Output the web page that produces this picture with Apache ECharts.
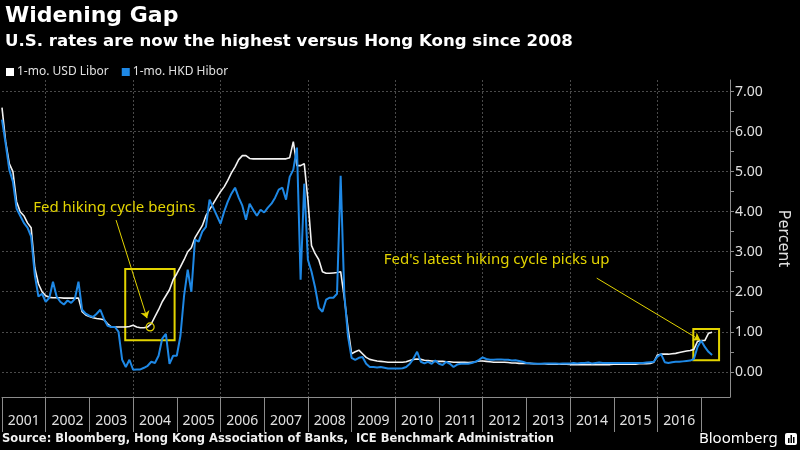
<!DOCTYPE html>
<html>
<head>
<meta charset="utf-8">
<script src="https://cdn.jsdelivr.net/npm/echarts@6/dist/echarts.min.js"></script>
<style>
  html, body { margin: 0; padding: 0; background: #000; }
  #chart { width: 800px; height: 450px; }
</style>
</head>
<body>
<div id="chart"></div>
<script>
// monthly readings, first point = Jan 2001
const startYear = 2001
const liborUSD = [
  6.6, 5.75, 5.2, 5.0, 4.25, 4.0, 3.9, 3.72, 3.6, 2.6, 2.2, 2.0,
  1.9, 1.86, 1.85, 1.85, 1.85, 1.84, 1.84, 1.84, 1.84, 1.84, 1.5, 1.42,
  1.38, 1.35, 1.33, 1.32, 1.3, 1.2, 1.12, 1.12, 1.12, 1.12, 1.12, 1.13,
  1.16, 1.12, 1.1, 1.1, 1.12, 1.2, 1.38, 1.55, 1.75, 1.9, 2.05, 2.3,
  2.45, 2.62, 2.8, 3.0, 3.1, 3.35, 3.5, 3.65, 3.9, 4.05, 4.2, 4.35,
  4.5, 4.62, 4.78, 4.97, 5.12, 5.3, 5.4, 5.4, 5.33, 5.32, 5.32, 5.32,
  5.32, 5.32, 5.32, 5.32, 5.32, 5.32, 5.32, 5.35, 5.75, 5.15, 5.15, 5.2,
  4.3, 3.15, 2.95, 2.8, 2.5, 2.46, 2.46, 2.47, 2.48, 2.5, 1.85, 1.1,
  0.45, 0.5, 0.54, 0.45, 0.36, 0.31, 0.29, 0.27, 0.26, 0.25, 0.24, 0.24,
  0.24, 0.24, 0.24, 0.25, 0.28, 0.31, 0.32, 0.31, 0.29, 0.28, 0.27, 0.26,
  0.26, 0.26, 0.25, 0.25, 0.24, 0.24, 0.24, 0.24, 0.23, 0.24, 0.25, 0.27,
  0.27, 0.26, 0.25, 0.24, 0.24, 0.24, 0.24, 0.23, 0.22, 0.22, 0.21, 0.21,
  0.21, 0.21, 0.2, 0.2, 0.2, 0.2, 0.19, 0.19, 0.19, 0.19, 0.19, 0.19,
  0.18, 0.18, 0.18, 0.18, 0.18, 0.18, 0.18, 0.18, 0.18, 0.18, 0.18, 0.18,
  0.19, 0.19, 0.19, 0.19, 0.19, 0.19, 0.19, 0.2, 0.2, 0.2, 0.21, 0.24,
  0.42, 0.44, 0.44, 0.44, 0.45, 0.46, 0.48, 0.5, 0.52, 0.53, 0.56, 0.76,
  0.78, 0.78, 0.96, 0.99
]
const hiborHKD = [
  6.3, 5.7, 5.05, 4.75, 4.08, 3.9, 3.72, 3.6, 3.38, 2.42, 1.88, 1.95,
  1.75, 1.85, 2.25, 1.88, 1.75, 1.68, 1.78, 1.72, 1.82, 2.25, 1.55, 1.45,
  1.4, 1.37, 1.45, 1.55, 1.32, 1.15, 1.12, 1.12, 1.0, 0.3, 0.12, 0.3,
  0.05, 0.06, 0.06, 0.1, 0.15, 0.25, 0.22, 0.4, 0.83, 0.95, 0.2, 0.4,
  0.4, 0.9, 1.9, 2.55, 2.0, 3.3, 3.25, 3.5, 3.62, 4.3, 4.1, 3.9,
  3.7, 4.0, 4.25, 4.45, 4.6, 4.35, 4.15, 3.8, 4.2, 4.04, 3.9, 4.05,
  3.98, 4.1, 4.2, 4.35, 4.55, 4.6, 4.3, 4.87, 5.05, 5.6, 2.3, 4.7,
  2.8, 2.5, 2.1, 1.6, 1.5, 1.8, 1.85, 1.85, 1.95, 4.9, 1.95, 0.9,
  0.35, 0.3, 0.35, 0.37, 0.2, 0.12, 0.12, 0.11, 0.12, 0.1, 0.08, 0.08,
  0.08, 0.08, 0.09, 0.12, 0.2, 0.33, 0.5, 0.25, 0.21, 0.25, 0.2, 0.28,
  0.2, 0.17, 0.25, 0.2, 0.12, 0.18, 0.2, 0.2, 0.2, 0.22, 0.25, 0.3,
  0.36, 0.32, 0.3, 0.3, 0.31, 0.31, 0.3, 0.3, 0.28, 0.29, 0.27, 0.25,
  0.22, 0.21, 0.21, 0.2, 0.2, 0.21, 0.21, 0.21, 0.21, 0.2, 0.21, 0.21,
  0.21, 0.22, 0.21, 0.22, 0.22, 0.23, 0.21, 0.22, 0.23, 0.22, 0.22, 0.22,
  0.22, 0.22, 0.22, 0.22, 0.22, 0.22, 0.22, 0.22, 0.22, 0.23, 0.24, 0.25,
  0.38, 0.44, 0.24, 0.22, 0.24, 0.25, 0.25, 0.26, 0.27, 0.28, 0.32, 0.62,
  0.78, 0.62, 0.5, 0.42
]
const yearTicks = [2001, 2002, 2003, 2004, 2005, 2006, 2007, 2008, 2009, 2010, 2011, 2012, 2013, 2014, 2015, 2016, 2017]
const yearLabels = [2001.5, 2002.5, 2003.5, 2004.5, 2005.5, 2006.5, 2007.5, 2008.5, 2009.5, 2010.5, 2011.5, 2012.5, 2013.5, 2014.5, 2015.5, 2016.5]
const percentTicks = [0, 0.5, 1, 1.5, 2, 2.5, 3, 3.5, 4, 4.5, 5, 5.5, 6, 6.5, 7]
const percentLabels = [0, 1, 2, 3, 4, 5, 6, 7]

const yellow = '#e3d400'
const axisGrey = '#8c8c8c'
const textGrey = '#e0e0e0'

function toPairs (values) {
  return values.map((v, i) => [startYear + i / 12, v])
}

const chart = echarts.init(document.getElementById('chart'), null, { renderer: 'canvas' })

chart.setOption({
  backgroundColor: '#000',
  animation: false,
  title: [
    { text: 'Widening Gap', left: 0, top: 0, textStyle: { color: '#fff', fontSize: 22, fontWeight: 'bold', fontFamily: 'DejaVu Sans' } },
    { text: 'U.S. rates are now the highest versus Hong Kong since 2008', left: 0, top: 28, textStyle: { color: '#fff', fontSize: 16.6, fontWeight: 'bold', fontFamily: 'DejaVu Sans' } },
    { text: 'Source: Bloomberg, Hong Kong Association of Banks,  ICE Benchmark Administration', left: 2, top: 433, padding: 0, textStyle: { color: '#f0f0f0', fontSize: 11.5, fontWeight: 'bold', fontFamily: 'DejaVu Sans' } },
    { text: 'Bloomberg', left: 699, top: 431, padding: 0, textStyle: { color: '#fff', fontSize: 15, fontWeight: 'normal', fontFamily: 'Noto Sans' } }
  ],
  legend: {
    left: 1,
    top: 61,
    icon: 'rect',
    itemWidth: 8,
    itemHeight: 8,
    itemGap: 13,
    textStyle: { color: textGrey, fontSize: 12, fontFamily: 'Noto Sans', padding: [0, 0, 0, -2] },
    data: ['1-mo. USD Libor', '1-mo. HKD Hibor']
  },
  grid: { left: 2, right: 65, top: 80, bottom: 53 },
  xAxis: {
    type: 'value',
    min: 2001,
    max: 2017.66,
    axisLine: { show: true, onZero: false, lineStyle: { color: axisGrey } },
    axisTick: { show: true, length: 35, customValues: yearTicks, lineStyle: { color: axisGrey } },
    axisLabel: {
      customValues: yearLabels,
      formatter: v => String(Math.floor(v)),
      color: textGrey,
      fontSize: 14,
      fontFamily: 'Noto Sans',
      margin: 17
    },
    splitLine: { show: true, lineStyle: { color: ['transparent', '#4a4a4a'], type: [2, 2] } }
  },
  yAxis: {
    type: 'value',
    position: 'right',
    min: -0.63,
    max: 7.29,
    axisLine: { show: true, lineStyle: { color: axisGrey } },
    axisTick: { show: true, length: 4, customValues: percentTicks, lineStyle: { color: axisGrey } },
    axisLabel: {
      customValues: percentLabels,
      formatter: v => v.toFixed(2),
      color: textGrey,
      fontSize: 14,
      fontFamily: 'Noto Sans',
      margin: 5
    },
    splitLine: { show: true, lineStyle: { color: ['#4a4a4a', 'transparent'], type: [2, 2] } },
    name: 'Percent',
    nameLocation: 'middle',
    nameRotate: -90,
    nameGap: 46,
    nameTextStyle: { color: textGrey, fontSize: 16, fontFamily: 'Noto Sans' }
  },
  series: [
    {
      name: '1-mo. USD Libor',
      type: 'line',
      showSymbol: false,
      color: '#ffffff',
      lineStyle: { width: 1.6, color: '#f2f2f2' },
      data: toPairs(liborUSD),
      markArea: {
        silent: true,
        itemStyle: { color: 'transparent', borderColor: yellow, borderWidth: 2 },
        data: [
          [{ coord: [2003.82, 2.57] }, { coord: [2004.95, 0.79] }],
          [{ coord: [2016.82, 1.07] }, { coord: [2017.41, 0.29] }]
        ]
      },
      markLine: {
        silent: true,
        symbol: ['none', 'arrow'],
        symbolSize: 7,
        label: { show: false },
        lineStyle: { color: yellow, width: 1, type: 'solid' },
        data: [
          [{ coord: [2003.61, 3.79] }, { coord: [2004.32, 1.34] }],
          [{ coord: [2014.61, 2.34] }, { coord: [2016.98, 0.79] }]
        ]
      },
      markPoint: {
        silent: true,
        symbol: 'circle',
        symbolSize: 0,
        label: { show: true, position: 'inside', color: yellow, fontSize: 15, fontFamily: 'Noto Sans', formatter: p => p.name },
        data: [
          { name: 'Fed hiking cycle begins', coord: [2003.57, 4.09] },
          { name: "Fed's latest hiking cycle picks up", coord: [2012.32, 2.79] },
          { name: '', coord: [2004.39, 1.12], symbolSize: 8, itemStyle: { color: 'transparent', borderColor: yellow, borderWidth: 1.2 }, label: { show: false } }
        ]
      }
    },
    {
      name: '1-mo. HKD Hibor',
      type: 'line',
      showSymbol: false,
      color: '#1e88e5',
      lineStyle: { width: 2, color: '#1e88e5' },
      data: toPairs(hiborHKD)
    }
  ],
  graphic: [
    {
      type: 'group',
      left: 785,
      top: 433,
      children: [
        { type: 'rect', shape: { x: 0, y: 0, width: 12, height: 12, r: 2 }, style: { fill: '#fff' } },
        { type: 'rect', shape: { x: 3, y: 5, width: 1.5, height: 5 }, style: { fill: '#000' } },
        { type: 'rect', shape: { x: 5.5, y: 2, width: 1.5, height: 8 }, style: { fill: '#000' } },
        { type: 'rect', shape: { x: 8, y: 4, width: 1.5, height: 6 }, style: { fill: '#000' } }
      ]
    }
  ]
})
</script>
</body>
</html>
